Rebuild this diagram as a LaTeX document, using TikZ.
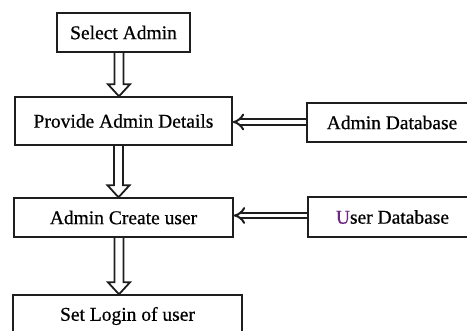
\documentclass[tikz,border=0pt]{standalone}
\usepackage{fontspec}
\setmainfont{Liberation Serif}
\newfontfamily\boxfont[FakeBold=0.6]{Liberation Serif}
\usetikzlibrary{arrows.meta,calc}
\definecolor{ink}{RGB}{30,30,30}
\definecolor{upurple}{RGB}{110,40,130}
\tikzset{
  stepbox/.style={draw=ink, line width=1.4pt, inner sep=0pt, font=\boxfont\fontsize{19.5}{21}\selectfont, text=black},
  feed/.style={draw=ink, line width=2pt, double=white, double distance=3.6pt, -{Implies}},
  blk/.style={draw=ink, line width=1.8pt, line join=miter},
}
% hollow block arrow pointing down from the bottom of #1 to the top of #2, on the vertical x = #3
\newcommand\blockdown[3]{%
  \draw[blk] ($(#3-4.5,0 |- #1.south)$) -- ($(#3-4.5,0 |- #2.north)+(0,12)$)
    -- ($(#3-11,0 |- #2.north)+(0,12)$) -- (#3,0 |- #2.north)
    -- ($(#3+11,0 |- #2.north)+(0,12)$) -- ($(#3+4.5,0 |- #2.north)+(0,12)$)
    -- ($(#3+4.5,0 |- #1.south)$);}
\begin{document}
\begin{tikzpicture}[x=1pt,y=1pt]
\useasboundingbox (0,0) rectangle (467,-331);
\clip (0,0) rectangle (467,-331);
\node[stepbox, minimum width=133pt, minimum height=39pt] (sel) at (123.5,-32.5) {Select Admin};
\node[stepbox, minimum width=217pt, minimum height=48pt] (prov) at (123.5,-121) {Provide Admin Details};
\node[stepbox, minimum width=219pt, minimum height=39pt] (acu) at (123.5,-217.5) {Admin Create user};
\node[stepbox, minimum width=229pt, minimum height=42pt] (slu) at (127.5,-316) {Set Login of user};
\node[stepbox, minimum width=170pt, minimum height=39pt] (adb) at (392,-122.5) {Admin Database};
\node[stepbox, minimum width=169pt, minimum height=40pt] (udb) at (392.5,-217) {\textcolor{upurple}{U}ser Database};
\blockdown{sel}{prov}{119}
\blockdown{prov}{acu}{118.5}
\blockdown{acu}{slu}{119}
\draw[feed] (adb.west |- 0,-122) -- (prov.east |- 0,-122);
\draw[feed] (udb.west |- 0,-215.5) -- (acu.east |- 0,-215.5);
\end{tikzpicture}
\end{document}
